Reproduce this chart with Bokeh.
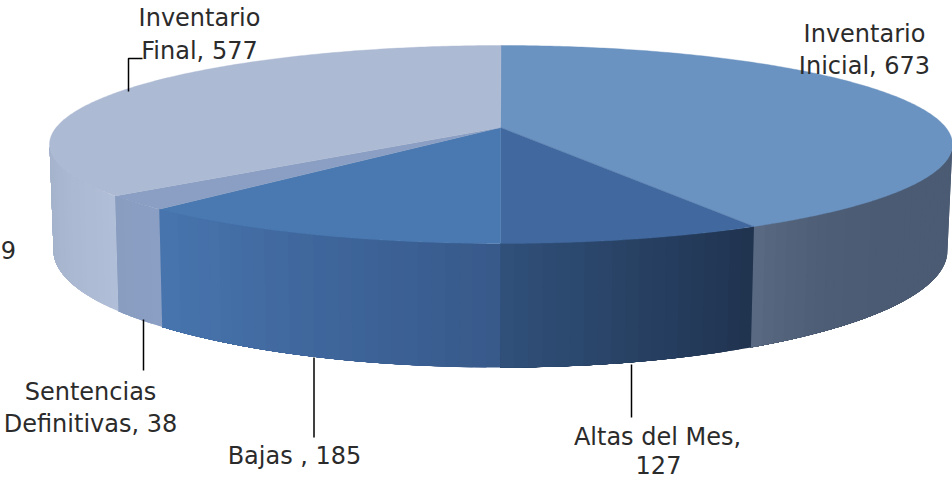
import math
from bokeh.plotting import figure
from bokeh.models import Range1d, ColumnDataSource
from bokeh.core.properties import value
from bokeh.embed import file_html
from bokeh.resources import INLINE

# ---- data (clockwise from twelve o'clock)
slices = ["Inventario Inicial", "Altas del Mes", "Bajas", "Sentencias Definitivas", "Inventario Final"]
values = [673, 127, 185, 38, 577]

# ---- styles
top_colors = ["#6b93c1", "#41699f", "#4a79b1", "#8a9fc3", "#adbad3"]
wall_from = ["#4b5b73", "#20334f", "#37598a", "#8a9fc3", "#b1bed7"]
wall_to = ["#5b6b83", "#30507a", "#4875af", "#889dc0", "#a3b1ca"]
wall_gamma = [7.0, 1.0, 1.0, 1.0, 1.0]
FONT = "DejaVu Sans"
FS = "24px"

# ---- projection of the disc on to the page
CX, CY, RX, RY = 500.5, 144.0, 451.5, 99.0
BX, BY, BRX, BRY = 500.0, 250.0, 447.0, 117.0
AX, AY = 500.0, 127.0
SQUASH = 4.7


def rim_phi(theta):
    dx, dy = SQUASH * math.sin(theta), -math.cos(theta)
    ox, oy = (AX - CX) / RX, (AY - CY) / RY
    ux, uy = dx / RX, dy / RY
    a, b, c = ux * ux + uy * uy, 2 * (ox * ux + oy * uy), ox * ox + oy * oy - 1
    t = (-b + math.sqrt(b * b - 4 * a * c)) / (2 * a)
    px, py = ox + t * ux, oy + t * uy
    return math.atan2(px, -py) % (2 * math.pi)


def top_pt(phi):
    return CX + RX * math.sin(phi), CY - RY * math.cos(phi)


def bot_pt(phi):
    return BX + BRX * math.sin(phi), BY - BRY * math.cos(phi)


def hex2rgb(h):
    return [int(h[i:i + 2], 16) for i in (1, 3, 5)]


def mix(c0, c1, f):
    a, b = hex2rgb(c0), hex2rgb(c1)
    return "#%02x%02x%02x" % tuple(round(a[i] + (b[i] - a[i]) * f) for i in range(3))


total = sum(values)
edges = [0.0]
for v in values:
    edges.append(edges[-1] + v / total * 2 * math.pi)
phis = [0.0] + [rim_phi(e) for e in edges[1:-1]] + [2 * math.pi]

p = figure(width=952, height=479, x_range=Range1d(0, 952), y_range=Range1d(479, 0),
           x_axis_location=None, y_axis_location=None, toolbar_location=None,
           output_backend="svg", min_border=0, outline_line_color=None,
           background_fill_color="white", border_fill_color="white")
p.grid.visible = False

# walls, only the near half of the rim shows; each strip runs on to the slice's far end
wx, wy, wc = [], [], []
for i in range(len(values)):
    lo, hi = max(phis[i], math.pi / 2), min(phis[i + 1], 3 * math.pi / 2)
    if hi <= lo:
        continue
    n = max(2, int((hi - lo) / 0.03))
    for k in range(n):
        f0 = lo + (hi - lo) * k / n
        m = 24
        pts = [f0 + (hi - f0) * j / m for j in range(m + 1)]
        t = [top_pt(a) for a in pts]
        b = [bot_pt(a) for a in reversed(pts)]
        wx.append([q[0] for q in t + b])
        wy.append([q[1] for q in t + b])
        f = ((k + 0.5) / n) ** wall_gamma[i]
        wc.append(mix(wall_from[i], wall_to[i], f))
p.patches("x", "y", source=ColumnDataSource(dict(x=wx, y=wy, c=wc)),
          fill_color="c", line_color=None)

# top faces
tx, ty = [], []
for i in range(len(values)):
    n = max(3, int((phis[i + 1] - phis[i]) / 0.01))
    pts = [top_pt(phis[i] + (phis[i + 1] - phis[i]) * k / n) for k in range(n + 1)]
    tx.append([AX] + [q[0] for q in pts])
    ty.append([AY] + [q[1] for q in pts])
p.patches("x", "y", source=ColumnDataSource(dict(x=tx, y=ty, c=top_colors)),
          fill_color="c", line_color="c", line_width=0.4)

# leader lines
leaders_x = [[128, 128, 142], [143, 143], [313.5, 313.5], [631, 631]]
leaders_y = [[91, 58, 58], [319, 370], [357, 437], [364, 417]]
p.multi_line(leaders_x, leaders_y, line_color="#000000", line_width=1.5)

# labels
lab_txt = ["Inventario", "Final, 577", "Inventario", "Inicial, 673", "Sentencias", "Definitivas, 38",
           "Bajas , 185", "Altas del Mes,", "127", "9"]
lab_x = [199, 199, 864, 864, 90, 90, 294, 657, 658, 8]
lab_y = [17, 50, 33, 65, 391, 423, 455, 436, 464, 249]
p.text(lab_x, lab_y, text=lab_txt, text_align="center", text_baseline="middle",
       text_font=value(FONT), text_font_size=FS, text_color="#2b2b2b")

open("out.html", "w").write(file_html(p, INLINE))
